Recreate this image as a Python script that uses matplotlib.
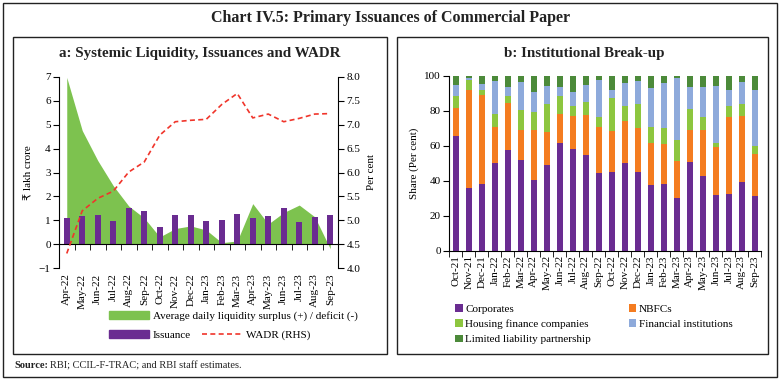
import matplotlib
matplotlib.use('Agg')
from matplotlib import pyplot as plt
from matplotlib.patches import Rectangle, Patch
from matplotlib.lines import Line2D
import numpy as np

plt.rcParams['font.family'] = ['Liberation Serif', 'DejaVu Sans']

# panel a: systemic liquidity, issuance, WADR
months_a = ['Apr-22', 'May-22', 'Jun-22', 'Jul-22', 'Aug-22', 'Sep-22', 'Oct-22', 'Nov-22', 'Dec-22',
            'Jan-23', 'Feb-23', 'Mar-23', 'Apr-23', 'May-23', 'Jun-23', 'Jul-23', 'Aug-23', 'Sep-23']
liquidity = [6.97, 4.75, 3.5, 2.45, 1.6, 1.1, 0.31, 0.66, 0.77,
             0.6, 0.07, 0.14, 1.7, 0.85, 1.33, 1.64, 1.15, -0.18]
issuance = [1.10, 1.19, 1.23, 0.98, 1.53, 1.39, 0.73, 1.23, 1.23,
            0.97, 1.0, 1.26, 1.1, 1.18, 1.52, 0.93, 1.14, 1.22]
wadr = [4.31, 5.2, 5.46, 5.61, 6.01, 6.22, 6.78, 7.06, 7.09,
        7.11, 7.42, 7.65, 7.14, 7.22, 7.06, 7.13, 7.22, 7.23]

# panel b: institutional break-up (per cent share)
months_b = ['Oct-21', 'Nov-21', 'Dec-21', 'Jan-22', 'Feb-22', 'Mar-22', 'Apr-22', 'May-22', 'Jun-22',
            'Jul-22', 'Aug-22', 'Sep-22', 'Oct-22', 'Nov-22', 'Dec-22', 'Jan-23', 'Feb-23', 'Mar-23',
            'Apr-23', 'May-23', 'Jun-23', 'Jul-23', 'Aug-23', 'Sep-23']
corporates = [65.7, 36.2, 38.4, 50.2, 57.8, 51.7, 40.3, 48.9, 61.6, 58.0, 54.9, 44.5,
              45.1, 50.4, 45.1, 37.5, 38.1, 30.3, 50.8, 42.6, 31.8, 32.8, 39.2, 31.3]
nbfcs = [16.1, 55.8, 50.8, 20.8, 26.5, 17.6, 28.8, 18.9, 16.6, 18.9, 22.8, 26.5,
         23.3, 24.0, 25.2, 24.1, 23.1, 21.0, 18.5, 26.2, 27.5, 43.9, 37.7, 23.8]
housing = [6.8, 5.5, 2.7, 7.2, 4.0, 11.2, 10.4, 16.1, 10.4, 5.7, 7.1, 5.7,
           18.7, 8.2, 13.4, 9.0, 8.9, 12.1, 11.6, 7.9, 2.4, 5.9, 6.8, 4.7]
fin_inst = [6.3, 1.0, 3.4, 19.0, 5.1, 16.1, 11.0, 10.4, 5.2, 8.3, 10.1, 20.8,
            4.9, 13.2, 13.5, 22.4, 25.7, 35.1, 12.5, 16.7, 32.6, 9.4, 12.5, 32.2]
llp = [5.1, 1.5, 4.7, 2.8, 6.6, 3.4, 9.5, 5.7, 6.2, 9.1, 5.1, 2.5,
       8.0, 4.2, 2.8, 7.0, 4.2, 1.5, 6.6, 6.6, 5.7, 8.0, 3.8, 8.0]

green_area = '#7dc24f'
purple = '#6a2c91'
red = '#f0352b'
orange = '#f47c20'
lgreen = '#8dc63f'
lblue = '#8eaadb'
dgreen = '#4c8a3a'
txt = '#222222'

W, H = 782, 381
fig = plt.figure(figsize=(W / 100, H / 100), dpi=100)


def fr(x0, y0, x1, y1):
    # pixel box (top-left origin) -> figure rectangle
    return [x0 / W, 1 - y1 / H, (x1 - x0) / W, (y1 - y0) / H]


# frames
for x0, y0, x1, y1 in [(3, 3, 777, 377), (13, 37, 387, 354), (397, 37, 768, 354)]:
    b = fr(x0, y0, x1, y1)
    fig.add_artist(Rectangle((b[0], b[1]), b[2], b[3], transform=fig.transFigure,
                             fill=False, ec=txt, lw=1.0))

fig.text(391 / W, 1 - 18 / H, 'Chart IV.5: Primary Issuances of Commercial Paper',
         ha='center', va='center', fontsize=11.5, fontweight='bold', color=txt)
fig.text(200 / W, 1 - 53 / H, 'a: Systemic Liquidity, Issuances and WADR',
         ha='center', va='center', fontsize=10.8, fontweight='bold', color=txt)
fig.text(584 / W, 1 - 53 / H, 'b: Institutional Break-up',
         ha='center', va='center', fontsize=10.8, fontweight='bold', color=txt)

# ---- panel a
ax1 = fig.add_axes(fr(59, 76.7, 338, 268.3))
x = np.arange(len(months_a))
ax1.fill_between(x, liquidity, 0, color=green_area, lw=0, zorder=1)
ax1.bar(x, issuance, width=0.4, color=purple, zorder=2)
ax1.set_xlim(-0.5, len(months_a) - 0.5)
ax1.set_ylim(-1, 7)
ax1.set_yticks(range(-1, 8))
ax1.spines['top'].set_visible(False)
ax1.spines['right'].set_visible(False)
ax1.spines['bottom'].set_position(('data', 0))
ax1.set_xticks(x)
ax1.set_xticklabels(months_a, rotation=90, fontsize=8)
ax1.set_xticks(np.arange(-0.5, len(months_a), 1), minor=True)
ax1.tick_params(axis='x', which='major', length=0, pad=21)
ax1.tick_params(axis='x', which='minor', length=4, direction='out')
ax1.tick_params(axis='y', labelsize=8, length=4, pad=2)
ax1.set_ylabel('₹ lakh crore', fontsize=8, labelpad=4)

ax2 = ax1.twinx()
ax2.plot(x, wadr, color=red, ls=(0, (3, 2)), lw=1.2, zorder=3)
ax2.set_ylim(4.0, 8.0)
ax2.set_yticks(np.arange(4.0, 8.01, 0.5))
ax2.set_yticklabels([f'{v:.1f}' for v in np.arange(4.0, 8.01, 0.5)])
for s in ['top', 'bottom', 'left']:
    ax2.spines[s].set_visible(False)
ax2.tick_params(axis='y', labelsize=8, length=4, pad=2)
ax2.set_ylabel('Per cent', fontsize=8, labelpad=5)

fig.legend(handles=[Patch(color=green_area, label='Average daily liquidity surplus (+) / deficit (-)')],
           loc='center left', bbox_to_anchor=(99 / W, 1 - 316 / H), frameon=False,
           fontsize=8, handlelength=3.6, handleheight=0.75, handletextpad=0.35)
fig.legend(handles=[Patch(color=purple, label='Issuance'),
                    Line2D([], [], color=red, ls=(0, (3, 2)), lw=1.2, label='WADR (RHS)')],
           loc='center left', bbox_to_anchor=(99 / W, 1 - 335 / H), frameon=False, ncol=2,
           fontsize=8, handlelength=3.6, handleheight=0.75, handletextpad=0.35, columnspacing=1.0)

# ---- panel b
ax3 = fig.add_axes(fr(449.3, 75.7, 761.3, 251))
xb = np.arange(len(months_b))
bottom = np.zeros(len(months_b))
series_b = [('Corporates', corporates, purple), ('NBFCs', nbfcs, orange),
            ('Housing finance companies', housing, lgreen),
            ('Financial institutions', fin_inst, lblue),
            ('Limited liability partnership', llp, dgreen)]
bars = {}
for name, vals, col in series_b:
    bars[name] = ax3.bar(xb, vals, width=0.42, bottom=bottom, color=col, label=name)
    bottom += np.array(vals)
ax3.set_xlim(-0.5, len(months_b) - 0.5)
ax3.set_ylim(0, 100)
ax3.set_yticks(range(0, 101, 20))
ax3.spines['top'].set_visible(False)
ax3.spines['right'].set_visible(False)
ax3.set_xticks(xb)
ax3.set_xticklabels(months_b, rotation=90, fontsize=8)
ax3.set_xticks(np.arange(-0.5, len(months_b), 1), minor=True)
ax3.tick_params(axis='x', which='major', length=0, pad=3)
ax3.tick_params(axis='x', which='minor', length=4, direction='out')
ax3.tick_params(axis='y', labelsize=8, length=4, pad=2)
ax3.set_ylabel('Share (Per cent)', fontsize=8, labelpad=4)

order = ['Corporates', 'Housing finance companies', 'Limited liability partnership',
         'NBFCs', 'Financial institutions']
fig.legend(handles=[bars[n] for n in order], labels=order, loc='upper left',
           bbox_to_anchor=(445 / W, 1 - 294 / H), frameon=False, ncol=2, fontsize=8,
           handlelength=0.7, handleheight=0.7, handletextpad=0.2, columnspacing=3.4,
           labelspacing=0.5)

fig.text(14 / W, 1 - 366 / H, 'Source:', fontsize=7.5, fontweight='bold', va='center', color=txt)
fig.text(50 / W, 1 - 366 / H, 'RBI; CCIL-F-TRAC; and RBI staff estimates.', fontsize=7.5,
         va='center', color=txt)

fig.savefig('out.png', dpi=100)
